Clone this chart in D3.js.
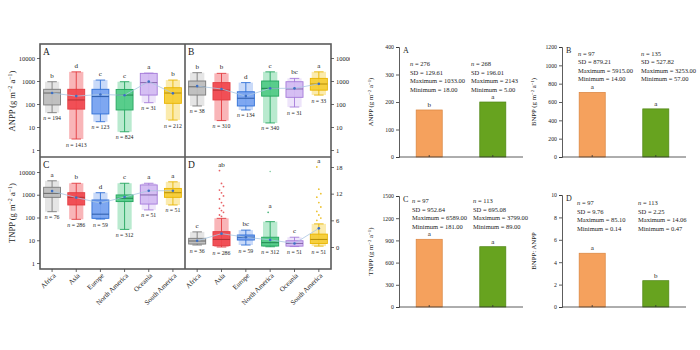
<!DOCTYPE html>
<html><head><meta charset="utf-8">
<script src="https://cdn.jsdelivr.net/npm/d3@7"></script>
<style>
body{margin:0;background:#fff}
svg{display:block}
text{font-family:"Liberation Serif","Times New Roman",serif;fill:#222}
</style>
</head><body>
<svg id="chart" width="700" height="350"></svg>
<script>
// ---------- Left figure data (box plots by region) ----------
const regions = ["Africa","Asia","Europe","North America","Oceania","South America"];

const anppLow  = [42, 3, 17, 6.2, 114, 20];
const anppQ1   = [91, 60, 37, 55, 245, 107];
const anppMed  = [300, 150, 210, 245, 850, 300];
const anppQ3   = [436, 436, 436, 430, 2150, 510];
const anppHigh = [930, 2500, 1100, 930, 2200, 1100];
const anppMeanV= [300, 220, 260, 240, 950, 290];
const anppSig  = ["b","d","c","c","a","b"];
const anppN    = [194, 1413, 123, 824, 31, 212];

const bnppLow  = [82, 19, 55, 15, 74, 245];
const bnppQ1   = [245, 150, 82, 220, 195, 400];
const bnppMed  = [560, 400, 178, 480, 450, 740];
const bnppQ3   = [1000, 850, 340, 1000, 930, 1300];
const bnppHigh = [2300, 2150, 850, 2500, 1300, 2500];
const bnppMeanV= [600, 450, 220, 480, 480, 750];
const bnppSig  = ["b","b","d","c","bc","a"];
const bnppN    = [38, 310, 134, 340, 31, 33];

const tnppLow  = [180, 83, 85, 30, 215, 355];
const tnppQ1   = [770, 355, 92, 500, 390, 770];
const tnppMed  = [1150, 770, 140, 700, 980, 1230];
const tnppQ3   = [2130, 1230, 590, 980, 2700, 1900];
const tnppHigh = [4100, 3200, 1230, 3200, 3200, 3700];
const tnppMeanV= [1450, 750, 430, 800, 1500, 1500];
const tnppSig  = ["a","b","d","c","a","a"];
const tnppN    = [76, 286, 59, 312, 51, 51];

const ratioLow  = [0.45, 0, 0.45, 0.05, 0.1, 0.2];
const ratioQ1   = [0.67, 0.3, 1.57, 0.22, 0.2, 0.8];
const ratioMed  = [1.35, 1.7, 2.2, 0.97, 0.8, 1.7];
const ratioQ3   = [1.95, 3.45, 2.7, 2.2, 1.4, 2.9];
const ratioHigh = [3.4, 6.45, 3.8, 5.7, 2.2, 5.2];
const ratioMeanV= [1.4, 3.0, 2.2, 1.6, 0.8, 4.2];
const ratioSig  = ["c","ab","bc","a","c","a"];
const ratioN    = [36, 286, 59, 312, 51, 51];
const ratioOutAsia = [17.2, 14.3, 13.6, 12.8, 12.2, 11.5, 10.8, 10, 9.3, 8.7, 8.2, 7.8, 7.2, 6.9];
const ratioOutNA   = [7.8];
const ratioOutSA   = [18, 13, 12, 11.2, 10, 9, 8, 7.2, 6.5, 6];
const ratioStrayNA = [17];

const logTicks = [1, 10, 100, 1000, 10000];
const ratioTicks = [0, 6, 12, 18];

// ---------- Right figure data (bar charts) ----------
const groups = ["Group 1","Group 2"];
const barAnpp  = [171, 200];
const barBnpp  = [705, 525];
const barTnpp  = [915, 815];
const barRatio = [4.8, 2.35];
const sigAnpp  = ["b","a"];
const sigBnpp  = ["a","a"];
const sigTnpp  = ["a","a"];
const sigRatio = ["a","b"];
const statsAnpp  = [["276","129.61","1033.00","18.00"],["268","196.01","2143","5.00"]];
const statsBnpp  = [["97","879.21","5915.00","14.00"],["135","527.82","3253.00","57.00"]];
const statsTnpp  = [["97","952.64","6589.00","181.00"],["113","695.08","3799.00","89.00"]];
const statsRatio = [["97","9.76","85.10","0.14"],["113","2.25","14.06","0.47"]];
const ticksAnpp  = [0,100,200,300,400];
const ticksBnpp  = [0,200,400,600,800,1000,1200];
const ticksTnpp  = [0,300,600,900,1200,1500];
const ticksRatio = [0,2,4,6,8,10];

// ---------- styles ----------
const boxStroke = ["#7a7a7a","#e23b40","#2f6fd6","#23a55e","#a57ad9","#e8b400"];
const boxFill   = ["#bdbdbd","#f0474d","#77a3f0","#4fca86","#d3bbf2","#f5cc33"];
const barFill   = ["#f5a15d","#67a31f"];
const barStroke = ["#d9843f","#4e8514"];

const svg = d3.select("#chart");

// ================= LEFT FIGURE =================
svg.append("defs").append("clipPath").attr("id","leftclip")
  .append("rect").attr("x",0).attr("y",0).attr("width",350).attr("height",350);
const left = svg.append("g").attr("clip-path","url(#leftclip)");

const X0 = 40, XM = 185, X1 = 331, Y0 = 44, YM = 157, Y1 = 269;

function panel(id, xr, yr, yScale, d, outl, stray, label){
  const x = d3.scaleBand().domain(regions).range(xr).padding(0);
  const cp = left.append("clipPath").attr("id",id);
  cp.append("rect").attr("x",xr[0]).attr("y",yr[0]).attr("width",xr[1]-xr[0]).attr("height",yr[1]-yr[0]);
  const g = left.append("g").attr("clip-path",`url(#${id})`);
  const bw = x.bandwidth()*0.7;
  const line = d3.line().x((v,i)=>x(regions[i])+x.bandwidth()/2).y(v=>yScale(v));
  regions.forEach((r,i)=>{
    const cx = x(r)+x.bandwidth()/2;
    const yl = yScale(d.low[i]), yh = yScale(d.high[i]);
    g.append("rect").attr("x",cx-bw*0.42).attr("y",yh).attr("width",bw*0.84).attr("height",yl-yh)
      .attr("fill",boxFill[i]).attr("opacity",0.4);
    g.append("line").attr("x1",cx).attr("x2",cx).attr("y1",yl).attr("y2",yh)
      .attr("stroke",boxStroke[i]).attr("stroke-width",0.9);
    [yl,yh].forEach(yy=>g.append("line").attr("x1",cx-bw*0.28).attr("x2",cx+bw*0.28)
      .attr("y1",yy).attr("y2",yy).attr("stroke",boxStroke[i]).attr("stroke-width",0.9));
    g.append("rect").attr("x",cx-bw/2).attr("y",yScale(d.q3[i])).attr("width",bw)
      .attr("height",yScale(d.q1[i])-yScale(d.q3[i]))
      .attr("fill",boxFill[i]).attr("fill-opacity",0.92).attr("stroke",boxStroke[i]).attr("stroke-width",0.9);
    g.append("line").attr("x1",cx-bw/2).attr("x2",cx+bw/2).attr("y1",yScale(d.med[i])).attr("y2",yScale(d.med[i]))
      .attr("stroke",d3.color(boxStroke[i]).darker(0.8)).attr("stroke-width",0.9);
    const outs = (outl && outl[i]) || [];
    outs.forEach((v,k)=>g.append("circle").attr("cx",cx+((k%3)-1)*2).attr("cy",yScale(v)).attr("r",0.9)
      .attr("fill",boxStroke[i]).attr("opacity",0.8));
    ((stray && stray[i]) || []).forEach(v=>g.append("circle").attr("cx",cx).attr("cy",yScale(v)).attr("r",0.8)
      .attr("fill",boxStroke[i]).attr("opacity",0.6));
    const topV = Math.max(d.high[i], ...outs);
    g.append("text").attr("x",cx).attr("y",yScale(topV)-4).attr("text-anchor","middle")
      .attr("font-size",7).attr("fill","#222").text(d.sig[i]);
    const nt = g.append("text").attr("x",cx).attr("y",yl+7.5).attr("text-anchor","middle").attr("font-size",5.8);
    nt.append("tspan").attr("font-style","italic").text("n");
    nt.append("tspan").text(" = "+d.n[i]);
  });
  g.append("path").attr("d",line(d.mean)).attr("fill","none").attr("stroke","#a9c6e2").attr("stroke-width",0.8);
  d.mean.forEach((v,i)=>g.append("circle").attr("cx",x(regions[i])+x.bandwidth()/2).attr("cy",yScale(v))
    .attr("r",1.3).attr("fill","#3d6fc4"));
  left.append("text").attr("x",xr[0]+3).attr("y",yr[0]+11).attr("font-size",9.5).text(label);
  return x;
}

const yA = d3.scaleLog().domain([1,10000]).range([150,58]);
const yC = d3.scaleLog().domain([1,10000]).range([263,172]);
const yD = d3.scaleLinear().domain([0,18]).range([247,167]);

panel("pA",[X0,XM],[Y0,YM],yA,{low:anppLow,q1:anppQ1,med:anppMed,q3:anppQ3,high:anppHigh,mean:anppMeanV,sig:anppSig,n:anppN},null,null,"A");
panel("pB",[XM,X1],[Y0,YM],yA,{low:bnppLow,q1:bnppQ1,med:bnppMed,q3:bnppQ3,high:bnppHigh,mean:bnppMeanV,sig:bnppSig,n:bnppN},null,null,"B");
const xC = panel("pC",[X0,XM],[YM,Y1],yC,{low:tnppLow,q1:tnppQ1,med:tnppMed,q3:tnppQ3,high:tnppHigh,mean:tnppMeanV,sig:tnppSig,n:tnppN},null,null,"C");
const xD = panel("pD",[XM,X1],[YM,Y1],yD,{low:ratioLow,q1:ratioQ1,med:ratioMed,q3:ratioQ3,high:ratioHigh,mean:ratioMeanV,sig:ratioSig,n:ratioN},
  [[],ratioOutAsia,[],ratioOutNA,[],ratioOutSA],[[],[],[],ratioStrayNA,[],[]],"D");

// frames
const fr = left.append("g").attr("fill","none").attr("stroke","#5a5a5a").attr("stroke-width",1.6);
fr.append("rect").attr("x",X0).attr("y",Y0).attr("width",X1-X0).attr("height",Y1-Y0);
fr.append("line").attr("x1",XM).attr("x2",XM).attr("y1",Y0).attr("y2",Y1);
fr.append("line").attr("x1",X0).attr("x2",X1).attr("y1",YM).attr("y2",YM);

function styleAxis(g, fs){
  g.select(".domain").remove();
  g.selectAll(".tick line").attr("stroke","#444").attr("stroke-width",0.8);
  g.selectAll(".tick text").attr("font-size",fs).attr("font-family","Liberation Serif").attr("fill","#222");
}
const fmtInt = d3.format("d");
styleAxis(left.append("g").attr("transform",`translate(${X0},0)`).call(d3.axisLeft(yA).tickValues(logTicks).tickFormat(fmtInt).tickSize(3).tickPadding(2)),6.5);
styleAxis(left.append("g").attr("transform",`translate(${X0},0)`).call(d3.axisLeft(yC).tickValues(logTicks).tickFormat(fmtInt).tickSize(3).tickPadding(2)),6.5);
styleAxis(left.append("g").attr("transform",`translate(${X1},0)`).call(d3.axisRight(yA).tickValues(logTicks).tickFormat(fmtInt).tickSize(3).tickPadding(2)),6.5);
styleAxis(left.append("g").attr("transform",`translate(${X1},0)`).call(d3.axisRight(yD).tickValues(ratioTicks).tickFormat(fmtInt).tickSize(3).tickPadding(2)),6.5);

[xC,xD].forEach(xs=>{
  const ax = left.append("g").attr("transform",`translate(0,${Y1})`).call(d3.axisBottom(xs).tickSize(3));
  ax.select(".domain").remove();
  ax.selectAll(".tick line").attr("stroke","#444").attr("stroke-width",0.8);
  ax.selectAll(".tick text").attr("font-size",7).attr("font-family","Liberation Serif").attr("fill","#222")
    .attr("text-anchor","end").attr("dy",0).attr("y",0)
    .attr("transform","translate(4,7) rotate(-45)");
});

function unitTitle(parent, x, y, name, fs){
  const t = parent.append("text").attr("transform",`translate(${x},${y}) rotate(-90)`)
    .attr("text-anchor","middle").attr("font-size",fs);
  t.append("tspan").text(name+" (g m");
  t.append("tspan").attr("font-size",fs*0.7).attr("dy",-fs*0.35).text("−2");
  t.append("tspan").attr("dy",fs*0.35).text(" a");
  t.append("tspan").attr("font-size",fs*0.7).attr("dy",-fs*0.35).text("−1");
  t.append("tspan").attr("dy",fs*0.35).text(")");
}
unitTitle(left, 15, 101, "ANPP", 8.5);
unitTitle(left, 15, 213, "TNPP", 8.5);

// ================= RIGHT FIGURE =================
function barPanel(cfg){
  const x = d3.scaleBand().domain(groups).range([cfg.ax, cfg.ax+124]).paddingInner(0.59).paddingOuter(0.27);
  const y = d3.scaleLinear().domain([0, cfg.max]).range([cfg.y0, cfg.y1]);
  const g = svg.append("g");
  cfg.vals.forEach((v,i)=>{
    g.append("rect").attr("x",x(groups[i])).attr("y",y(v)).attr("width",x.bandwidth()).attr("height",y(0)-y(v))
      .attr("fill",barFill[i]).attr("stroke",barStroke[i]).attr("stroke-width",0.7);
    g.append("text").attr("x",x(groups[i])+x.bandwidth()/2).attr("y",y(v)-3).attr("text-anchor","middle")
      .attr("font-size",7).text(cfg.sig[i]);
    g.append("line").attr("x1",x(groups[i])+x.bandwidth()/2).attr("x2",x(groups[i])+x.bandwidth()/2)
      .attr("y1",y(0)).attr("y2",y(0)-2).attr("stroke","#333").attr("stroke-width",0.8);
  });
  const ya = g.append("g").attr("transform",`translate(${cfg.ax},0)`)
    .call(d3.axisLeft(y).tickValues(cfg.ticks).tickFormat(fmtInt).tickSize(3).tickPadding(2));
  ya.select(".domain").attr("stroke","#333").attr("stroke-width",0.8);
  ya.selectAll(".tick line").attr("stroke","#333").attr("stroke-width",0.8);
  ya.selectAll(".tick text").attr("font-size",5.8).attr("font-family","Liberation Serif").attr("fill","#222");
  g.append("line").attr("x1",cfg.ax).attr("x2",cfg.ax+124).attr("y1",y(0)).attr("y2",y(0))
    .attr("stroke","#333").attr("stroke-width",0.8);
  g.append("text").attr("x",cfg.ax+4).attr("y",cfg.y1+6).attr("font-size",8).text(cfg.label);
  const labels = ["n = ","SD = ","Maximum = ","Minimum = "];
  cfg.stats.forEach((col,ci)=>{
    col.forEach((s,li)=>{
      const t = g.append("text").attr("x",cfg.ax+cfg.colX[ci]).attr("y",cfg.y1+cfg.statY+li*8.6)
        .attr("font-size",6.5);
      if(li===0){ t.append("tspan").attr("font-style","italic").text("n"); t.append("tspan").text(" = "+s); }
      else t.text(labels[li]+s);
    });
  });
  if(cfg.unit) unitTitle(svg, cfg.ax-26, (cfg.y0+cfg.y1)/2, cfg.title, 6.8);
  else svg.append("text").attr("transform",`translate(${cfg.ax-26},${(cfg.y0+cfg.y1)/2}) rotate(-90)`)
    .attr("text-anchor","middle").attr("font-size",6.8).text(cfg.title);
}

barPanel({ax:399,y0:157,y1:47,max:400,vals:barAnpp,sig:sigAnpp,ticks:ticksAnpp,label:"A",stats:statsAnpp,colX:[11,72],statY:19,title:"ANPP",unit:true});
barPanel({ax:562,y0:157,y1:47,max:1200,vals:barBnpp,sig:sigBnpp,ticks:ticksBnpp,label:"B",stats:statsBnpp,colX:[16,79],statY:8.5,title:"BNPP",unit:true});
barPanel({ax:399,y0:307,y1:196,max:1500,vals:barTnpp,sig:sigTnpp,ticks:ticksTnpp,label:"C",stats:statsTnpp,colX:[13,74],statY:7,title:"TNPP",unit:true});
barPanel({ax:562,y0:307,y1:195,max:10,vals:barRatio,sig:sigRatio,ticks:ticksRatio,label:"D",stats:statsRatio,colX:[15,76],statY:10,title:"BNPP: ANPP",unit:false});
</script>
</body></html>
